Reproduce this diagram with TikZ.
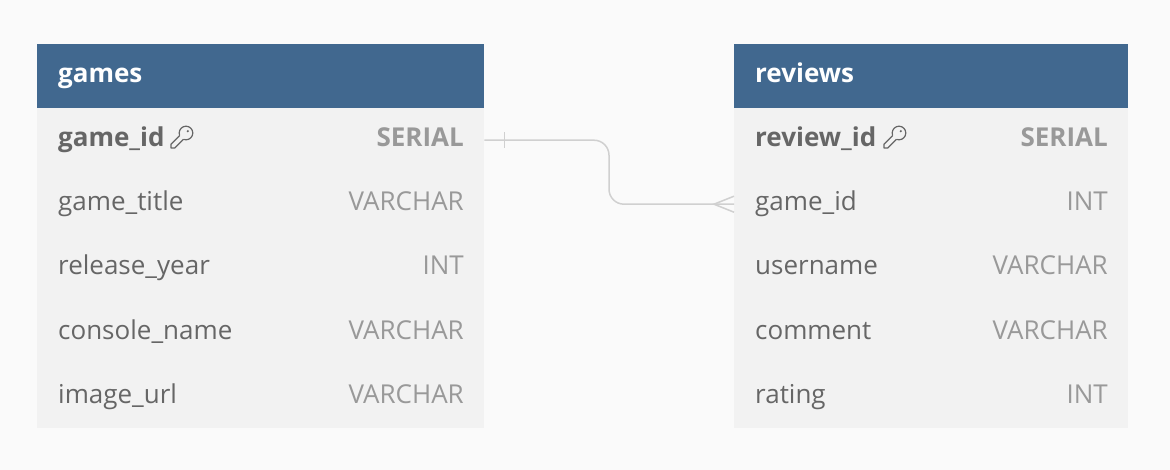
\documentclass[tikz,border=0pt]{standalone}
\usepackage{fontspec}
\setmainfont{Open Sans}
\usetikzlibrary{calc}
\definecolor{bg}{HTML}{FAFAFA}
\definecolor{hdr}{HTML}{41688F}
\definecolor{rowbg}{HTML}{F2F2F2}
\definecolor{namec}{HTML}{666666}
\definecolor{typec}{HTML}{999999}
\definecolor{linec}{HTML}{D0D0D0}
\newcommand{\fs}{\fontsize{26}{30}\selectfont}
\tikzset{
  hdrbox/.style={fill=hdr, draw=none, minimum height=64pt, inner sep=0pt, anchor=north west},
  rowbox/.style={fill=rowbg, draw=none, minimum height=64pt, inner sep=0pt, anchor=north west},
  title/.style={text=white, font=\fs\bfseries, anchor=base west, inner sep=0pt},
  colname/.style={text=namec, font=\fs, anchor=base west, inner sep=0pt},
  coltype/.style={text=typec, font=\fs, anchor=base east, inner sep=0pt},
  conn/.style={draw=linec, line width=1.5pt},
  keyic/.style={draw=namec, line width=1.2pt, line join=round},
}
\newcommand{\keyicon}[1]{%
  \begin{scope}[shift={#1}]
    \draw[keyic] (0,0) circle (6.8);
    \fill[rowbg] (-1.2,-1.2) -- (1.2,1.2) -- (-8.8,11.2) -- (-11.2,8.8) -- cycle;
    \fill[rowbg] (-3.0,3.0) ++(1.9,1.9) -- ++(-10,10) -- ++(-3.8,-3.8) -- ++(10,-10) -- cycle;
    \draw[keyic] (-2.4,6.2) -- (-11.2,15) -- (-15,15) -- (-15,11.2) -- (-6.2,2.4);
    \fill[namec] (1.8,-1.8) circle (1.2);
  \end{scope}}
\begin{document}
\begin{tikzpicture}[x=1pt,y=-1pt]
\useasboundingbox (0,0) rectangle (1170,470);
\fill[bg] (0,0) rectangle (1170,470);
% games
\node[hdrbox, minimum width=447pt] (gh) at (37,44) {};
\node[title] (ght) at (58,83) {games};
\foreach \i in {1,...,5}{
  \node[rowbox, minimum width=447pt] (g\i) at (37,{44+64*\i}) {};
}
\node[colname, font=\fs\bfseries] (gn1) at (58,147) {game\_id};
\node[coltype, font=\fs\bfseries] (gt1) at (464,147) {SERIAL};
\keyicon{(186,133)}
\node[colname] (gn2) at (58,211) {game\_title};
\node[coltype] (gt2) at (464,211) {VARCHAR};
\node[colname] (gn3) at (58,275) {release\_year};
\node[coltype] (gt3) at (464,275) {INT};
\node[colname] (gn4) at (58,339) {console\_name};
\node[coltype] (gt4) at (464,339) {VARCHAR};
\node[colname] (gn5) at (58,403) {image\_url};
\node[coltype] (gt5) at (464,403) {VARCHAR};
% reviews
\node[hdrbox, minimum width=394pt] (rh) at (734,44) {};
\node[title] (rht) at (755,83) {reviews};
\foreach \i in {1,...,5}{
  \node[rowbox, minimum width=394pt] (r\i) at (734,{44+64*\i}) {};
}
\node[colname, font=\fs\bfseries] (rn1) at (755,147) {review\_id};
\node[coltype, font=\fs\bfseries] (rt1) at (1108,147) {SERIAL};
\keyicon{(899,133)}
\node[colname] (rn2) at (755,211) {game\_id};
\node[coltype] (rt2) at (1108,211) {INT};
\node[colname] (rn3) at (755,275) {username};
\node[coltype] (rt3) at (1108,275) {VARCHAR};
\node[colname] (rn4) at (755,339) {comment};
\node[coltype] (rt4) at (1108,339) {VARCHAR};
\node[colname] (rn5) at (755,403) {rating};
\node[coltype] (rt5) at (1108,403) {INT};
% connector
\coordinate (mx) at (609,0);
\draw[conn, rounded corners=15pt] (g1.east) -| (mx |- r2.west) -- (r2.west);
\draw[conn] ($(g1.east)+(20,-8)$) -- ($(g1.east)+(20,8)$);
\draw[conn] ($(r2.west)+(0,-8)$) -- ($(r2.west)+(-20,0)$) -- ($(r2.west)+(0,8)$);
\end{tikzpicture}
\end{document}
